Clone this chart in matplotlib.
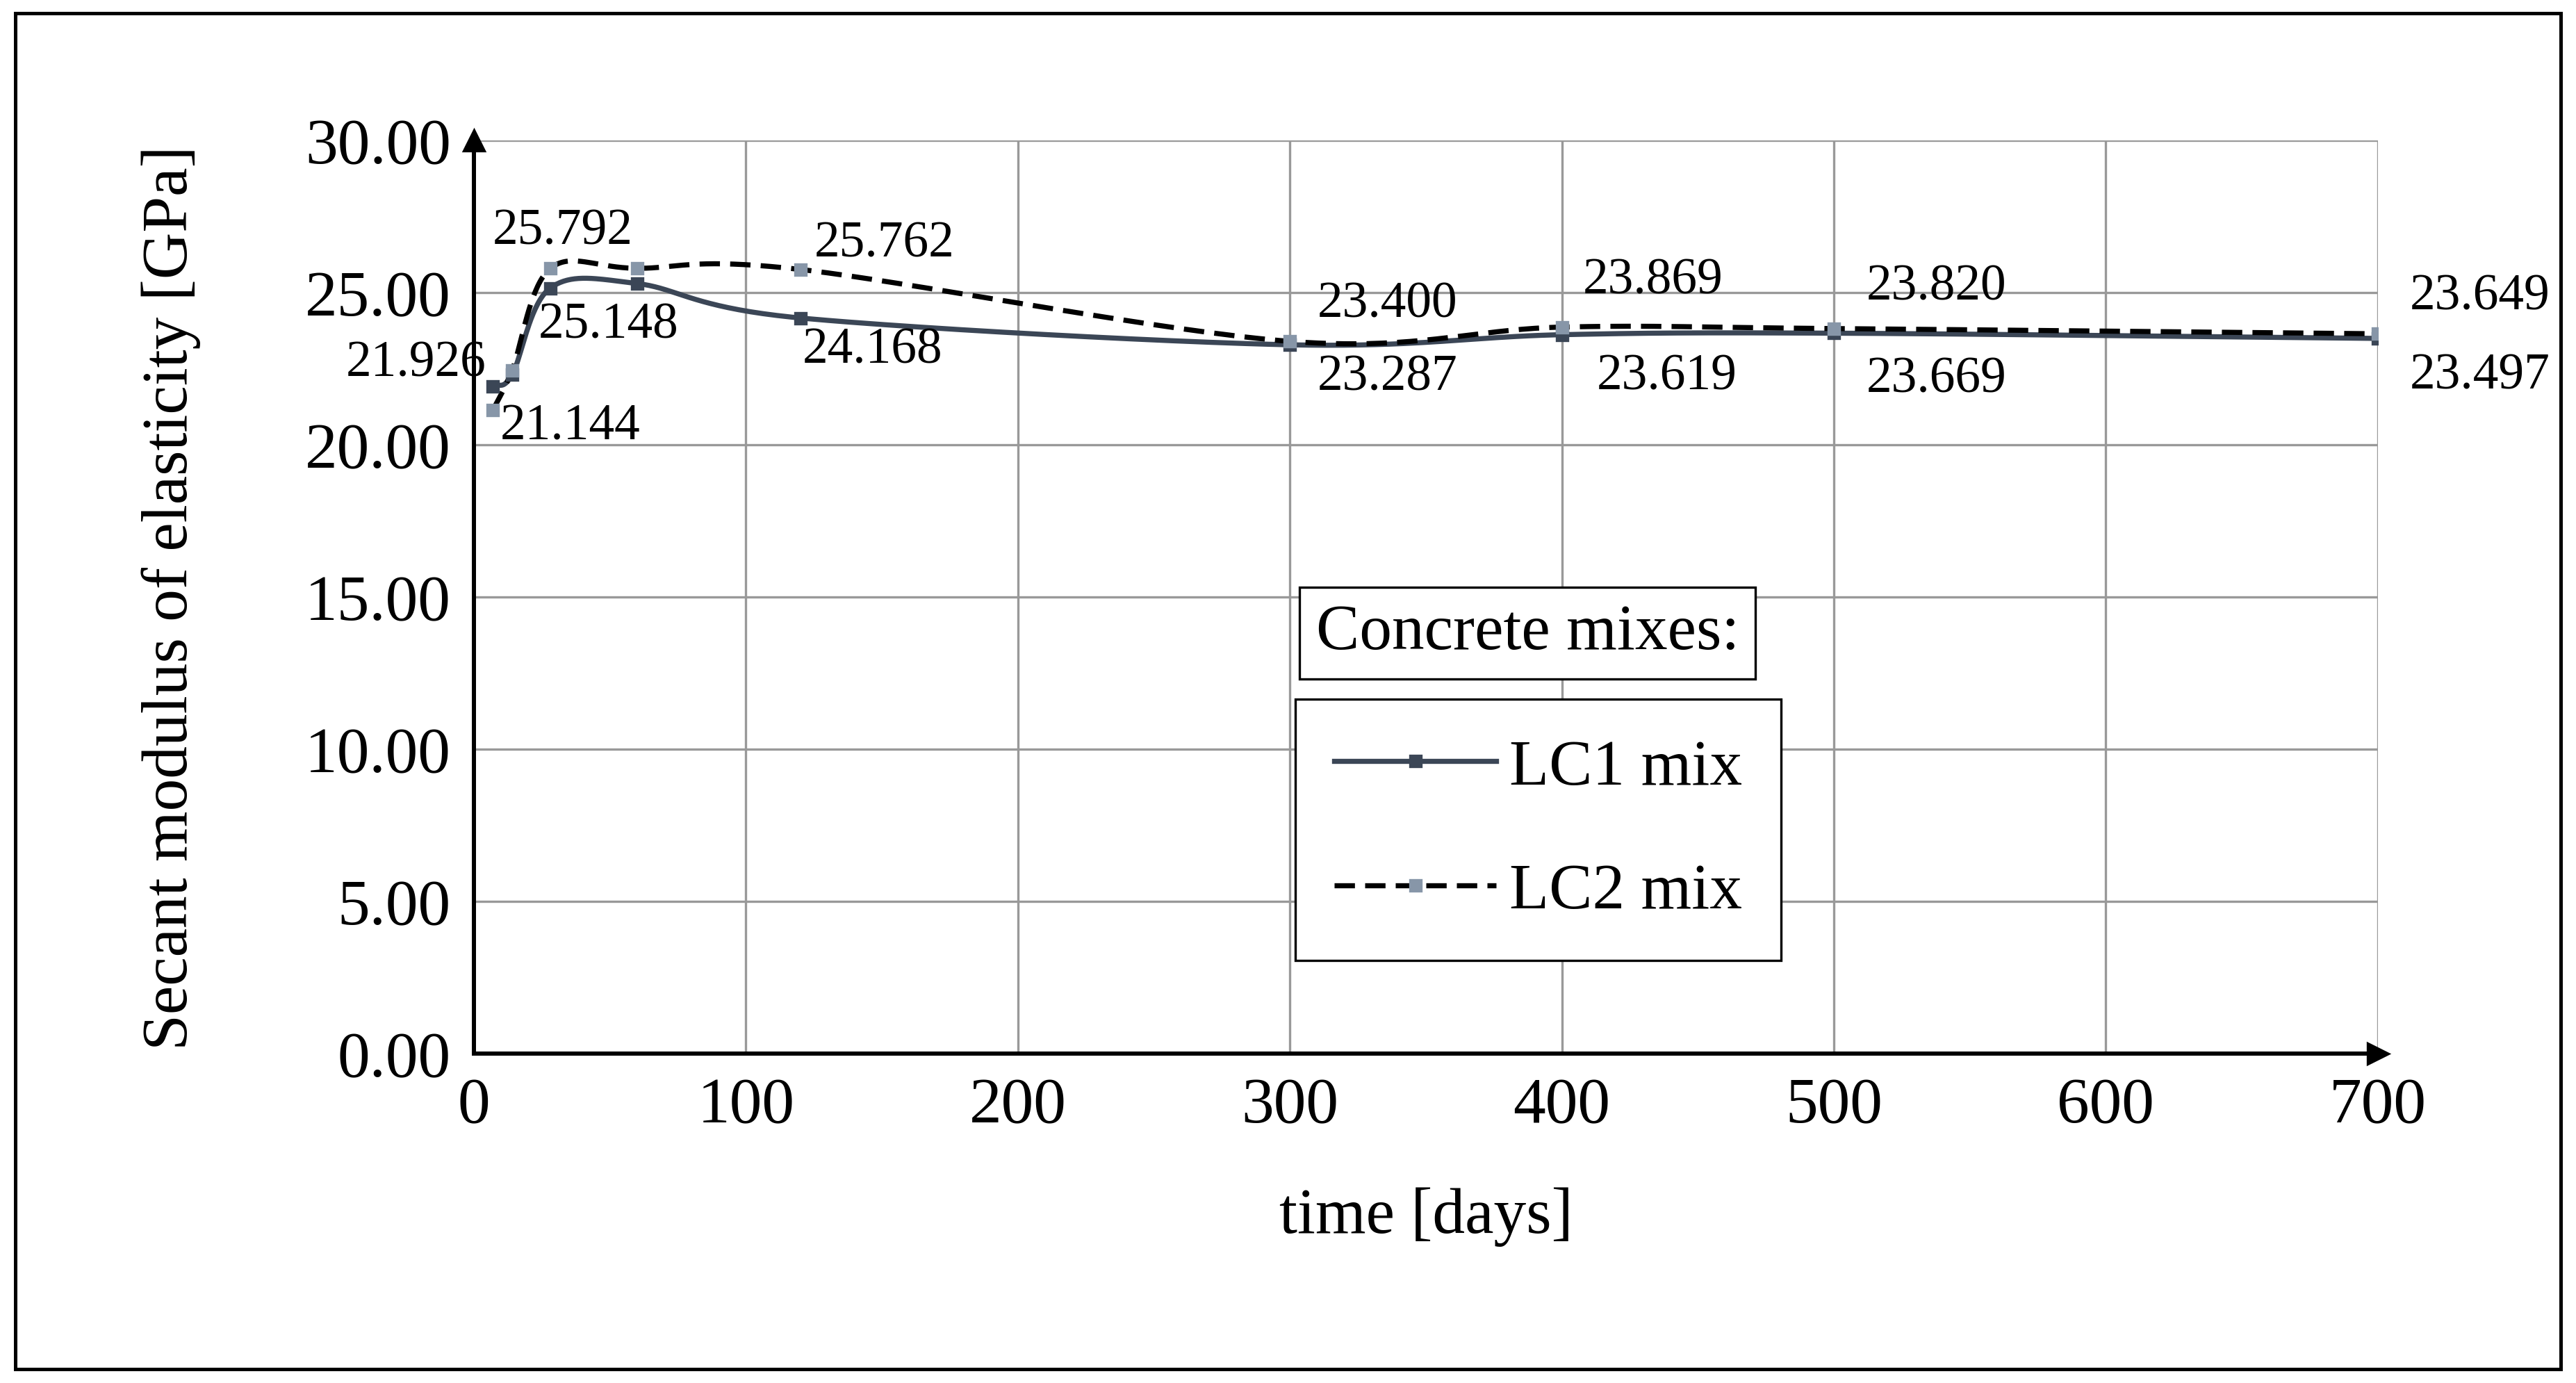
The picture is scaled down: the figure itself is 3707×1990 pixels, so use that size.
import numpy as np
import matplotlib.pyplot as plt
from matplotlib.patches import Rectangle

plt.rcParams['font.family'] = 'Liberation Serif'

days = [7, 14, 28, 60, 120, 300, 400, 500, 700]
lc1 = [21.926, 22.30, 25.148, 25.30, 24.168, 23.287, 23.619, 23.669, 23.497]
lc2 = [21.144, 22.45, 25.792, 25.80, 25.762, 23.400, 23.869, 23.820, 23.649]

# labels shown on the chart: (index, text, dx, dy, ha) offsets in points
lc1_labels = [(0, '21.926', -3, 10, 'right'), (2, '25.148', -5, -16, 'left'), (4, '24.168', 1, -14, 'left'),
              (5, '23.287', 12, -14, 'left'), (6, '23.619', 15, -18, 'left'),
              (7, '23.669', 14, -20, 'left'), (8, '23.497', 14, -16, 'left')]
lc2_labels = [(0, '21.144', 3, -7, 'left'), (2, '25.792', -25, 16, 'left'), (4, '25.762', 6, 11, 'left'),
              (5, '23.400', 12, 16, 'left'), (6, '23.869', 9, 20, 'left'),
              (7, '23.820', 14, 18, 'left'), (8, '23.649', 14, 16, 'left')]


def smooth(x, y, n=40):
    # Catmull-Rom curve through the points, like Excel's smoothed line
    x = np.asarray(x, float)
    y = np.asarray(y, float)
    px = np.concatenate([[2 * x[0] - x[1]], x, [2 * x[-1] - x[-2]]])
    py = np.concatenate([[2 * y[0] - y[1]], y, [2 * y[-1] - y[-2]]])
    xs, ys = [], []
    t = np.linspace(0, 1, n)
    for i in range(1, len(px) - 2):
        for p, out in ((px, xs), (py, ys)):
            p0, p1, p2, p3 = p[i - 1], p[i], p[i + 1], p[i + 2]
            out.extend(0.5 * (2 * p1 + (-p0 + p2) * t + (2 * p0 - 5 * p1 + 4 * p2 - p3) * t ** 2
                              + (-p0 + 3 * p1 - 3 * p2 + p3) * t ** 3))
    return xs, ys


fig = plt.figure(figsize=(3707 / 240, 1991 / 240), dpi=240)
fig.patches.append(Rectangle((0.006, 0.01), 0.988, 0.98, transform=fig.transFigure,
                             fill=False, edgecolor='black', linewidth=1.5))
ax = fig.add_axes([0.184, 0.238, 0.739, 0.66])

x1, y1 = smooth(days, lc1)
x2, y2 = smooth(days, lc2)
ax.plot(x1, y1, color='#3b4656', linewidth=2.2)
ax.plot(x2, y2, color='black', linewidth=2.2, linestyle=(0, (4, 2)))
ax.plot(days, lc1, 's', color='#3b4656', markersize=5)
ax.plot(days, lc2, 's', color='#8796a8', markersize=5)

for i, t, dx, dy, ha in lc1_labels:
    ax.annotate(t, (days[i], lc1[i]), xytext=(dx, dy), textcoords='offset points',
                fontsize=22, ha=ha, va='center')
for i, t, dx, dy, ha in lc2_labels:
    ax.annotate(t, (days[i], lc2[i]), xytext=(dx, dy), textcoords='offset points',
                fontsize=22, ha=ha, va='center')

ax.set_xlim(0, 700)
ax.set_ylim(0, 30)
ax.set_xticks(range(0, 701, 100))
ax.set_yticks(range(0, 31, 5))
ax.set_yticklabels([f'{v:.2f}' for v in range(0, 31, 5)])
ax.tick_params(labelsize=28, length=0, pad=10)
ax.grid(True, color='#999999', linewidth=1)
for s in ['top', 'right']:
    ax.spines[s].set_visible(False)
for s in ['left', 'bottom']:
    ax.spines[s].set_linewidth(1.8)
ax.plot(1, 0, '>k', transform=ax.transAxes, clip_on=False, markersize=9)
ax.plot(0, 1, '^k', transform=ax.transAxes, clip_on=False, markersize=9)
ax.set_xlabel('time [days]', fontsize=28, labelpad=22)
ax.set_ylabel('Secant modulus of elasticity [GPa]', fontsize=28, labelpad=45)

fig.text(0.593, 0.542, 'Concrete mixes:', fontsize=28, ha='center', va='center',
         bbox=dict(boxstyle='square,pad=0.25', facecolor='white', edgecolor='black', linewidth=1))
ax.plot([], [], color='#3b4656', linewidth=2.2, marker='s', markersize=5, label='LC1 mix')
ax.plot([], [], color='black', linestyle=(0, (4, 2)), linewidth=2.2, marker='s',
        markerfacecolor='#8796a8', markeredgecolor='#8796a8', markersize=5, label='LC2 mix')
ax.legend(handles=ax.lines[-2:], loc='center', bbox_to_anchor=(0.559, 0.245), fontsize=28,
          frameon=True, fancybox=False, edgecolor='black', framealpha=1, labelspacing=1.0,
          handlelength=2.5, handletextpad=0.2, borderpad=0.6)

fig.savefig('out.png')
